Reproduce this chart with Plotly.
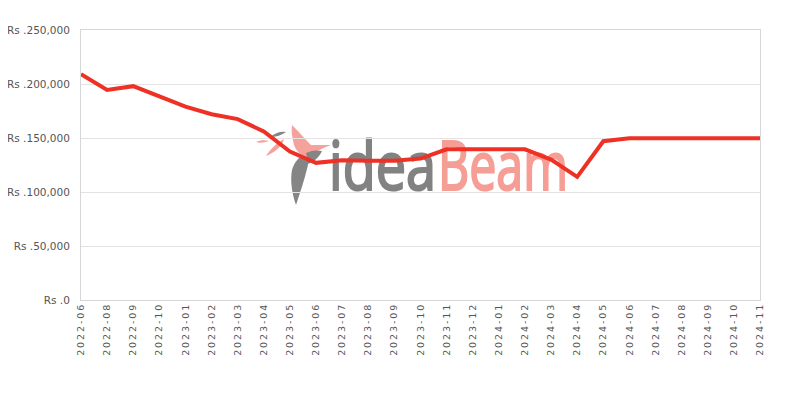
import plotly.graph_objects as go
import base64

months = ["2022-06", "2022-08", "2022-09", "2022-10", "2023-01", "2023-02", "2023-03",
          "2023-04", "2023-05", "2023-06", "2023-07", "2023-08", "2023-09", "2023-10",
          "2023-11", "2023-12", "2024-01", "2024-02", "2024-03", "2024-04", "2024-05",
          "2024-06", "2024-07", "2024-08", "2024-09", "2024-10", "2024-11"]
prices = [209000, 194500, 198000, 188000, 179000, 172000, 167500,
          156000, 137500, 127000, 129500, 129000, 129000, 131000,
          139500, 139500, 139500, 139500, 130000, 114000, 147000,
          149700, 149700, 149700, 149700, 149700, 149700]

ytick_vals = [0, 50000, 100000, 150000, 200000, 250000]
ytick_text = ["Rs .0", "Rs .50,000", "Rs .100,000", "Rs .150,000", "Rs .200,000", "Rs .250,000"]

# spaced-out tick labels (letter spacing imitation)
month_labels = ["\u2009".join(list(m)) for m in months]

svg = """<svg xmlns='http://www.w3.org/2000/svg' width='340' height='90' viewBox='0 0 340 90' preserveAspectRatio='none'>
<path d='M20,17 C26,12 32,11 36,12 C32,15 26,17 20,17 Z' fill='#858585'/>
<path d='M6,22 C10,20 15,20 19,21 C14,23 9,23 6,22 Z' fill='#f4a29b'/>
<path d='M16,36 C21,28 28,22 34,19 C32,27 25,32 16,36 Z' fill='#f4a29b'/>
<path d='M42,5 C48,11 55,19 61,25 L81,25 C72,28 65,32 60,36 C53,37 47,33 44,25 C42,17 41,11 42,5 Z' fill='#f4a29b'/>
<path d='M52,36 C57,35 60,40 57,49 C54,61 50,73 46,85 C42,74 40,60 42,50 C44,43 48,38 52,36 Z' fill='#858585'/>
<path d='M56,33 C62,30 68,30 72,31 C69,37 65,41 58,44 Z' fill='#858585'/>
<text x='79' y='70' font-family='Open Sans, sans-serif' font-size='67' fill='#828282' stroke='#828282' stroke-width='2.2' textLength='107' lengthAdjust='spacingAndGlyphs'>idea</text>
<text x='188' y='70' font-family='Open Sans, sans-serif' font-size='67' fill='#f59e96' stroke='#f59e96' stroke-width='2.2' textLength='130' lengthAdjust='spacingAndGlyphs'>Beam</text>
</svg>"""
svg_uri = "data:image/svg+xml;base64," + base64.b64encode(svg.encode()).decode()

fig = go.Figure()
fig.add_trace(go.Scatter(
    x=months, y=prices, mode="lines",
    line=dict(color="#ee3124", width=4),
    hoverinfo="x+y", showlegend=False,
))

# page body has an 8px offset
OFF = 8
pl, pr, pt, pb = 81, 760, 30, 300   # plot area in page pixels
L, T = pl - OFF, pt - OFF
R = 800 - (pr - OFF)
B = 400 - (pb - OFF)
pw, ph = pr - pl, pb - pt
fig.add_layout_image(dict(
    source=svg_uri, xref="paper", yref="paper",
    x=(250 - pl) / pw, y=(pb - 120) / ph,
    sizex=340 / pw, sizey=90 / ph,
    xanchor="left", yanchor="top", sizing="stretch", layer="below", opacity=1,
))

fig.update_layout(
    width=800, height=400,
    margin=dict(l=L, r=R, t=T, b=B, autoexpand=False),
    paper_bgcolor="white", plot_bgcolor="white",
    font=dict(family="DejaVu Sans", size=11, color="#444444"),
    xaxis=dict(
        type="category", tickangle=-90, showgrid=False,
        tickmode="array", tickvals=months, ticktext=month_labels,
        showline=True, linecolor="#d6d6d6", linewidth=1, mirror=True,
        ticks="", tickfont=dict(family="DejaVu Sans", size=9.5, color="#555555"),
        range=[0, len(months) - 1], automargin=False,
    ),
    yaxis=dict(
        range=[0, 250000], tickvals=ytick_vals, ticktext=ytick_text,
        showgrid=True, gridcolor="#e3e3e3", gridwidth=1,
        showline=True, linecolor="#d6d6d6", linewidth=1, mirror=True,
        zeroline=False, ticks="", ticklabelstandoff=8,
        tickfont=dict(family="DejaVu Sans", size=10.5, color="#555555"),
        automargin=False,
    ),
)

fig.write_html("out.html")
